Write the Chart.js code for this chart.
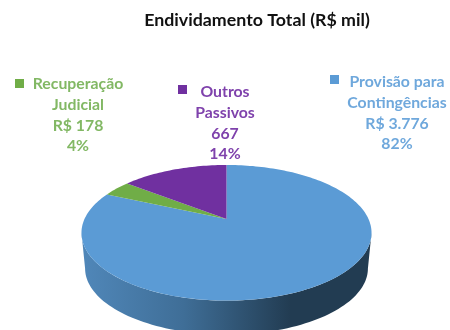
<!DOCTYPE html>
<html>
<head>
<meta charset="utf-8">
<title>Endividamento Total</title>
<script src="https://cdn.jsdelivr.net/npm/chart.js@4/dist/chart.umd.min.js"></script>
<style>
    html, body { margin: 0; background: #fff; }
    #wrap { width: 450px; height: 330px; }
    #pieChart { filter: blur(0.4px); }
</style>
</head>
<body>
<div id="wrap"><canvas id="pieChart" width="450" height="330"></canvas></div>
<script>
const chartTitle = "Endividamento Total (R$ mil)";
const categories = ["Provisão para Contingências", "Recuperação Judicial", "Outros Passivos"];
const values = [3776, 178, 667];
const colors = ["#5B9BD5", "#70AD47", "#7030A0"];
const labelLines = [
    ["Provisão para", "Contingências", "R$ 3.776", "82%"],
    ["Recuperação", "Judicial", "R$ 178", "4%"],
    ["Outros", "Passivos", "667", "14%"],
];
const labelColors = ["#6FA8DC", "#82B864", "#7F42AC"];

// where each label block goes: center x, first line y, marker x, marker y
const labelPos = [
    { x: 397, y: 82, mx: 330, my: 75 },
    { x: 78, y: 84, mx: 15, my: 79 },
    { x: 225, y: 92, mx: 178, my: 85 },
];

// tilted disc, apex is above the middle of the ellipse because of the perspective
const disc = { x: 226.5, y: 219, w: 142, h: 65, k: 0.2036 };
const sideDepth = 36;

const project = (angle, d, shrink) => {
    const u = Math.cos(angle);
    const v = -Math.sin(angle);
    const q = 1 + disc.k * v;
    return [
        disc.x + (disc.w * shrink * u) / q,
        disc.y - (disc.h * shrink * v) / q + d,
    ];
};

const pie3d = {
    id: "pie3d",
    beforeDatasetDraw(chart) {
        const ctx = chart.ctx;

        // side wall, runs between the widest points of the ellipse
        const grad = ctx.createLinearGradient(82, 0, 372, 0);
        grad.addColorStop(0, "#5087B9");
        grad.addColorStop(0.35, "#3F6E97");
        grad.addColorStop(0.72, "#223C52");
        grad.addColorStop(1, "#223C52");
        const wallFrom = Math.asin(disc.k);
        const wallTo = Math.PI - wallFrom;
        ctx.save();
        ctx.beginPath();
        for (let i = 0; i <= 90; i++) {
            const p = project(wallFrom + ((wallTo - wallFrom) * i) / 90, 0, 1);
            i ? ctx.lineTo(p[0], p[1]) : ctx.moveTo(p[0], p[1]);
        }
        for (let i = 90; i >= 0; i--) {
            const p = project(wallFrom + ((wallTo - wallFrom) * i) / 90, sideDepth, 0.975);
            ctx.lineTo(p[0], p[1]);
        }
        ctx.closePath();
        ctx.fillStyle = grad;
        ctx.fill();

        // slices, angles come from chart.js arc elements
        chart.getDatasetMeta(0).data.forEach((arc, i) => {
            const { startAngle, endAngle } = arc.getProps(["startAngle", "endAngle"], true);
            ctx.beginPath();
            ctx.moveTo(disc.x, disc.y);
            const steps = Math.max(2, Math.ceil((endAngle - startAngle) * 40));
            for (let s = 0; s <= steps; s++) {
                const p = project(startAngle + ((endAngle - startAngle) * s) / steps, 0, 1);
                ctx.lineTo(p[0], p[1]);
            }
            ctx.closePath();
            ctx.fillStyle = colors[i];
            ctx.fill();
        });
        ctx.restore();
        return false;
    },
    afterDraw(chart) {
        const ctx = chart.ctx;
        ctx.save();
        ctx.textAlign = "center";
        ctx.textBaseline = "middle";
        ctx.fillStyle = "#111";
        ctx.font = "bold 17.8px Lato";
        ctx.fillText(chartTitle, 257, 20);

        ctx.font = "bold 15.8px Lato";
        labelLines.forEach((lines, i) => {
            const pos = labelPos[i];
            ctx.fillStyle = colors[i];
            ctx.fillRect(pos.mx, pos.my, 9, 9);
            ctx.fillStyle = labelColors[i];
            lines.forEach((line, n) => {
                ctx.fillText(line, pos.x, pos.y + n * 20.7);
            });
        });
        ctx.restore();
    },
};

new Chart(document.getElementById("pieChart"), {
    type: "pie",
    data: {
        labels: categories,
        datasets: [{ data: values, backgroundColor: colors, borderWidth: 0 }],
    },
    options: {
        responsive: false,
        animation: false,
        plugins: {
            legend: { display: false },
            title: { display: false },
            tooltip: { enabled: false },
        },
    },
    plugins: [pie3d],
});
</script>
</body>
</html>
